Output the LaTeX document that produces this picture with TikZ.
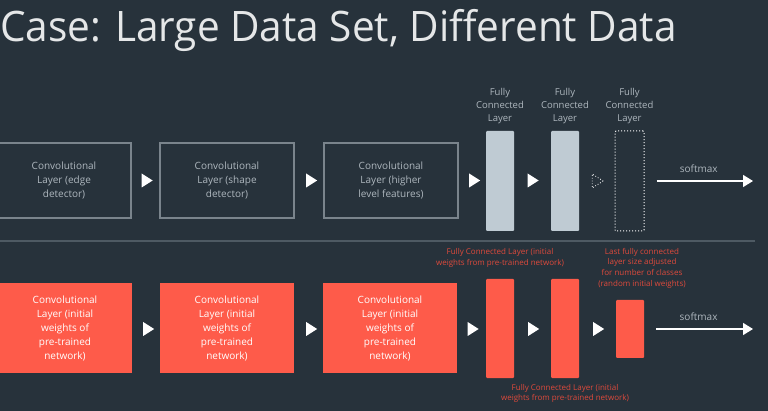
\documentclass[tikz,border=0pt]{standalone}
\usepackage{fontspec}
\setmainfont{Open Sans}
\newfontfamily\titlefont[FakeStretch=0.965]{Open Sans}
\usetikzlibrary{shapes.geometric,arrows.meta,positioning}

\definecolor{slide}{HTML}{27323B}
\definecolor{rule}{HTML}{4E5A63}
\definecolor{boxline}{HTML}{7A848C}
\definecolor{paletext}{HTML}{AEB7BE}
\definecolor{fcgray}{HTML}{BFCBD3}
\definecolor{coral}{HTML}{FE5B4A}
\definecolor{notered}{HTML}{DE4A3C}

\tikzset{
  oldconv/.style={draw=boxline, line width=1.3pt, minimum width=134pt, minimum height=75pt,
    inner sep=0pt, align=center, text=paletext, font=\fontsize{10}{14}\selectfont},
  newconv/.style={fill=coral, minimum width=134pt, minimum height=90pt,
    inner sep=0pt, align=center, text=white, font=\fontsize{10}{14}\selectfont},
  fcbar/.style={fill=#1, rounded corners=1pt, minimum width=28pt, inner sep=0pt},
  fclabel/.style={align=center, text=paletext, font=\fontsize{9.5}{12.7}\selectfont},
  rednote/.style={align=center, text=notered, font=\fontsize{8}{10.7}\selectfont},
  play/.style={isosceles triangle, isosceles triangle stretches, fill=white,
    minimum width=14pt, minimum height=11pt, inner sep=0pt},
  ghostplay/.style={play, fill=none, draw=white, dotted, line width=0.8pt},
  outarrow/.style={draw=white, line width=1.5pt, shorten <=12pt,
    -{Triangle[length=10pt,width=12pt]}},
  softlabel/.style={midway, above=4pt, text=paletext, font=\fontsize{10}{12}\selectfont}
}

\begin{document}
\begin{tikzpicture}[x=1pt, y=-1pt]
  \fill[slide] (0,0) rectangle (768,411);
  \useasboundingbox (0,0) rectangle (768,411);

  % title
  \node[anchor=base west, inner sep=0pt, text=white!88!slide,
    font=\titlefont\fontsize{42}{48}\selectfont] (title) at (0,42) {Case: Large Data Set, Different Data};

  % original network
  \node[oldconv] (edge) at (64,180.5) {Convolutional\\Layer (edge\\detector)};
  \node[oldconv] (shape) at (227,180.5) {Convolutional\\Layer (shape\\detector)};
  \node[oldconv] (higher) at (391,180.5) {Convolutional\\Layer (higher\\level features)};
  \node[play] (p1) at (145.5,180.5) {};
  \node[play] (p2) at (310,180.5) {};
  \node[play] (p3) at (473,180.5) {};
  \node[fcbar=fcgray, minimum height=100pt] (fca) at (500,181) {};
  \node[play] (p4) at (531.5,180.5) {};
  \node[fcbar=fcgray, minimum height=100pt] (fcb) at (565,181) {};
  \node[ghostplay] (p5) at (596,181) {};
  \node[draw=white, dotted, line width=1pt, rounded corners=1pt, minimum width=29pt,
    minimum height=100pt, inner sep=0pt] (fcc) at (629.5,181) {};
  \node[fclabel] (la) at (500,106) {Fully\\Connected\\Layer};
  \node[fclabel] (lb) at (565,106) {Fully\\Connected\\Layer};
  \node[fclabel] (lc) at (629.5,106) {Fully\\Connected\\Layer};
  \coordinate (outtop) at (753,181);
  \draw[outarrow] (fcc) -- (outtop) node[softlabel] {softmax};

  % separator
  \draw[rule, line width=1.5pt] (0,241) -- (755,241);

  % fine-tuned network
  \node[newconv] (c1) at (65,328) {Convolutional\\Layer (initial\\weights of\\pre-trained\\network)};
  \node[newconv] (c2) at (227,328) {Convolutional\\Layer (initial\\weights of\\pre-trained\\network)};
  \node[newconv] (c3) at (390,328) {Convolutional\\Layer (initial\\weights of\\pre-trained\\network)};
  \node[play] (q1) at (147,329) {};
  \node[play] (q2) at (310,329) {};
  \node[play] (q3) at (471.5,329) {};
  \node[fcbar=coral, minimum height=99pt] (fd) at (500,328.5) {};
  \node[play] (q4) at (532,329) {};
  \node[fcbar=coral, minimum height=99pt] (fe) at (565,328.5) {};
  \node[play] (q5) at (597,329) {};
  \node[fcbar=coral, minimum height=58pt] (ff) at (630,329) {};
  \node[rednote] (na) at (500,258) {Fully Connected Layer (initial\\weights from pre-trained network)};
  \node[rednote] (nb) at (642,268) {Last fully connected\\layer size adjusted\\for number of classes\\(random initial weights)};
  \node[rednote] (nc) at (565,393.5) {Fully Connected Layer (initial\\weights from pre-trained network)};
  \coordinate (outbot) at (753,329);
  \draw[outarrow] (ff) -- (outbot) node[softlabel] {softmax};
\end{tikzpicture}
\end{document}
